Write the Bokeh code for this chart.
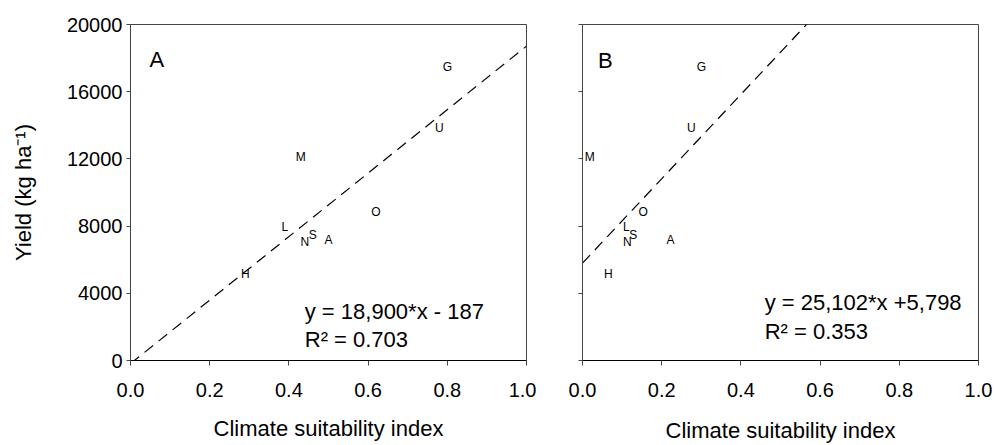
from bokeh.plotting import figure
from bokeh.layouts import row
from bokeh.models import Range1d, FixedTicker, Label, ColumnDataSource, PrintfTickFormatter
from bokeh.core.properties import value
from bokeh.embed import file_html
from bokeh.resources import INLINE

# ---- data ----
codes = ["G", "U", "M", "O", "L", "S", "N", "A", "H"]
yield_kg = [17470, 13850, 12120, 8860, 7930, 7450, 7070, 7180, 5160]
csi_a = [0.80, 0.78, 0.43, 0.62, 0.39, 0.46, 0.44, 0.50, 0.29]
csi_b = [0.30, 0.275, 0.018, 0.153, 0.111, 0.128, 0.113, 0.222, 0.065]
slope_a, icpt_a, r2_a = 18900, -187, 0.703
slope_b, icpt_b, r2_b = 25102, 5798, 0.353
eq_a = "y = 18,900*x - 187"
eq_b = "y = 25,102*x +5,798"
x_ticks = [0.0, 0.2, 0.4, 0.6, 0.8, 1.0]
y_ticks = [0, 4000, 8000, 12000, 16000, 20000]
x_title = "Climate suitability index"
y_title = "Yield (kg ha\u207b\u00b9)"

FONT = "Liberation Sans"
GREY = "#444444"


def make_panel(csi, slope, icpt, r2, eq, tag, show_ylabels, width, left, right,
               eq_pos, tag_pos, xtitle_standoff):
    p = figure(width=width, height=445, output_backend="svg", toolbar_location=None,
               x_range=Range1d(0, 1), y_range=Range1d(0, 20000),
               min_border_left=left, min_border_right=right, min_border_top=24,
               min_border_bottom=84)
    p.grid.visible = False
    p.outline_line_color = GREY
    p.outline_line_width = 1
    p.background_fill_color = "white"
    p.border_fill_color = "white"

    xa = p.xaxis[0]
    xa.ticker = FixedTicker(ticks=x_ticks)
    xa.formatter = PrintfTickFormatter(format="%.1f")
    xa.minor_tick_line_color = None
    xa.major_tick_in = 0
    xa.major_tick_out = 5
    xa.axis_line_color = "black"
    xa.major_tick_line_color = GREY
    xa.major_label_text_font = FONT
    xa.major_label_text_font_size = "20px"
    xa.major_label_text_color = "black"
    xa.major_label_standoff = 17
    xa.axis_label = x_title
    xa.axis_label_text_font = FONT
    xa.axis_label_text_font_size = "22px"
    xa.axis_label_text_font_style = "normal"
    xa.axis_label_text_color = "black"
    xa.axis_label_standoff = xtitle_standoff

    ya = p.yaxis[0]
    ya.ticker = FixedTicker(ticks=y_ticks)
    ya.minor_tick_line_color = None
    ya.major_tick_in = 0
    ya.major_tick_out = 4
    ya.axis_line_color = GREY
    ya.major_tick_line_color = GREY
    ya.major_label_text_font = FONT
    ya.major_label_text_font_size = "20px"
    ya.major_label_text_color = "black"
    ya.major_label_standoff = 4
    if show_ylabels:
        ya.axis_label = y_title
        ya.axis_label_text_font = FONT
        ya.axis_label_text_font_size = "22px"
        ya.axis_label_text_font_style = "normal"
        ya.axis_label_text_color = "black"
        ya.axis_label_standoff = 28
    else:
        ya.major_label_overrides = {t: "" for t in y_ticks}

    # regression line
    xs = [0.0, 1.0]
    ys = [icpt + slope * v for v in xs]
    p.line(xs, ys, line_color="black", line_width=1.2, line_dash="11 7")

    # site letters
    src = ColumnDataSource(dict(x=csi, y=yield_kg, t=codes))
    p.text(x="x", y="y", text="t", source=src, text_align="center",
           text_baseline="middle", text_font=value(FONT), text_font_size="12px",
           text_color="black")

    # panel tag
    p.add_layout(Label(x=tag_pos[0], y=tag_pos[1], text=tag, text_font=FONT,
                       text_font_size="22px", text_color="black",
                       text_baseline="alphabetic"))
    # equation
    p.add_layout(Label(x=eq_pos[0], y=eq_pos[1], text=eq, text_font=FONT,
                       text_font_size="22px", text_color="black",
                       text_baseline="alphabetic"))
    p.add_layout(Label(x=eq_pos[0], y=eq_pos[2], text="R\u00b2 = %.3f" % r2, text_font=FONT,
                       text_font_size="22px", text_color="black",
                       text_baseline="alphabetic"))
    return p


pa = make_panel(csi_a, slope_a, icpt_a, r2_a, eq_a, "A", True, 536, 130, 10,
                (0.44, 2930, 1250), (0.048, 17920), 16)
pb = make_panel(csi_b, slope_b, icpt_b, r2_b, eq_b, "B", False, 460, 46, 18,
                (0.46, 3440, 1720), (0.039, 17860), 18)

layout = row(pa, pb)
open("out.html", "w").write(file_html(layout, INLINE))
